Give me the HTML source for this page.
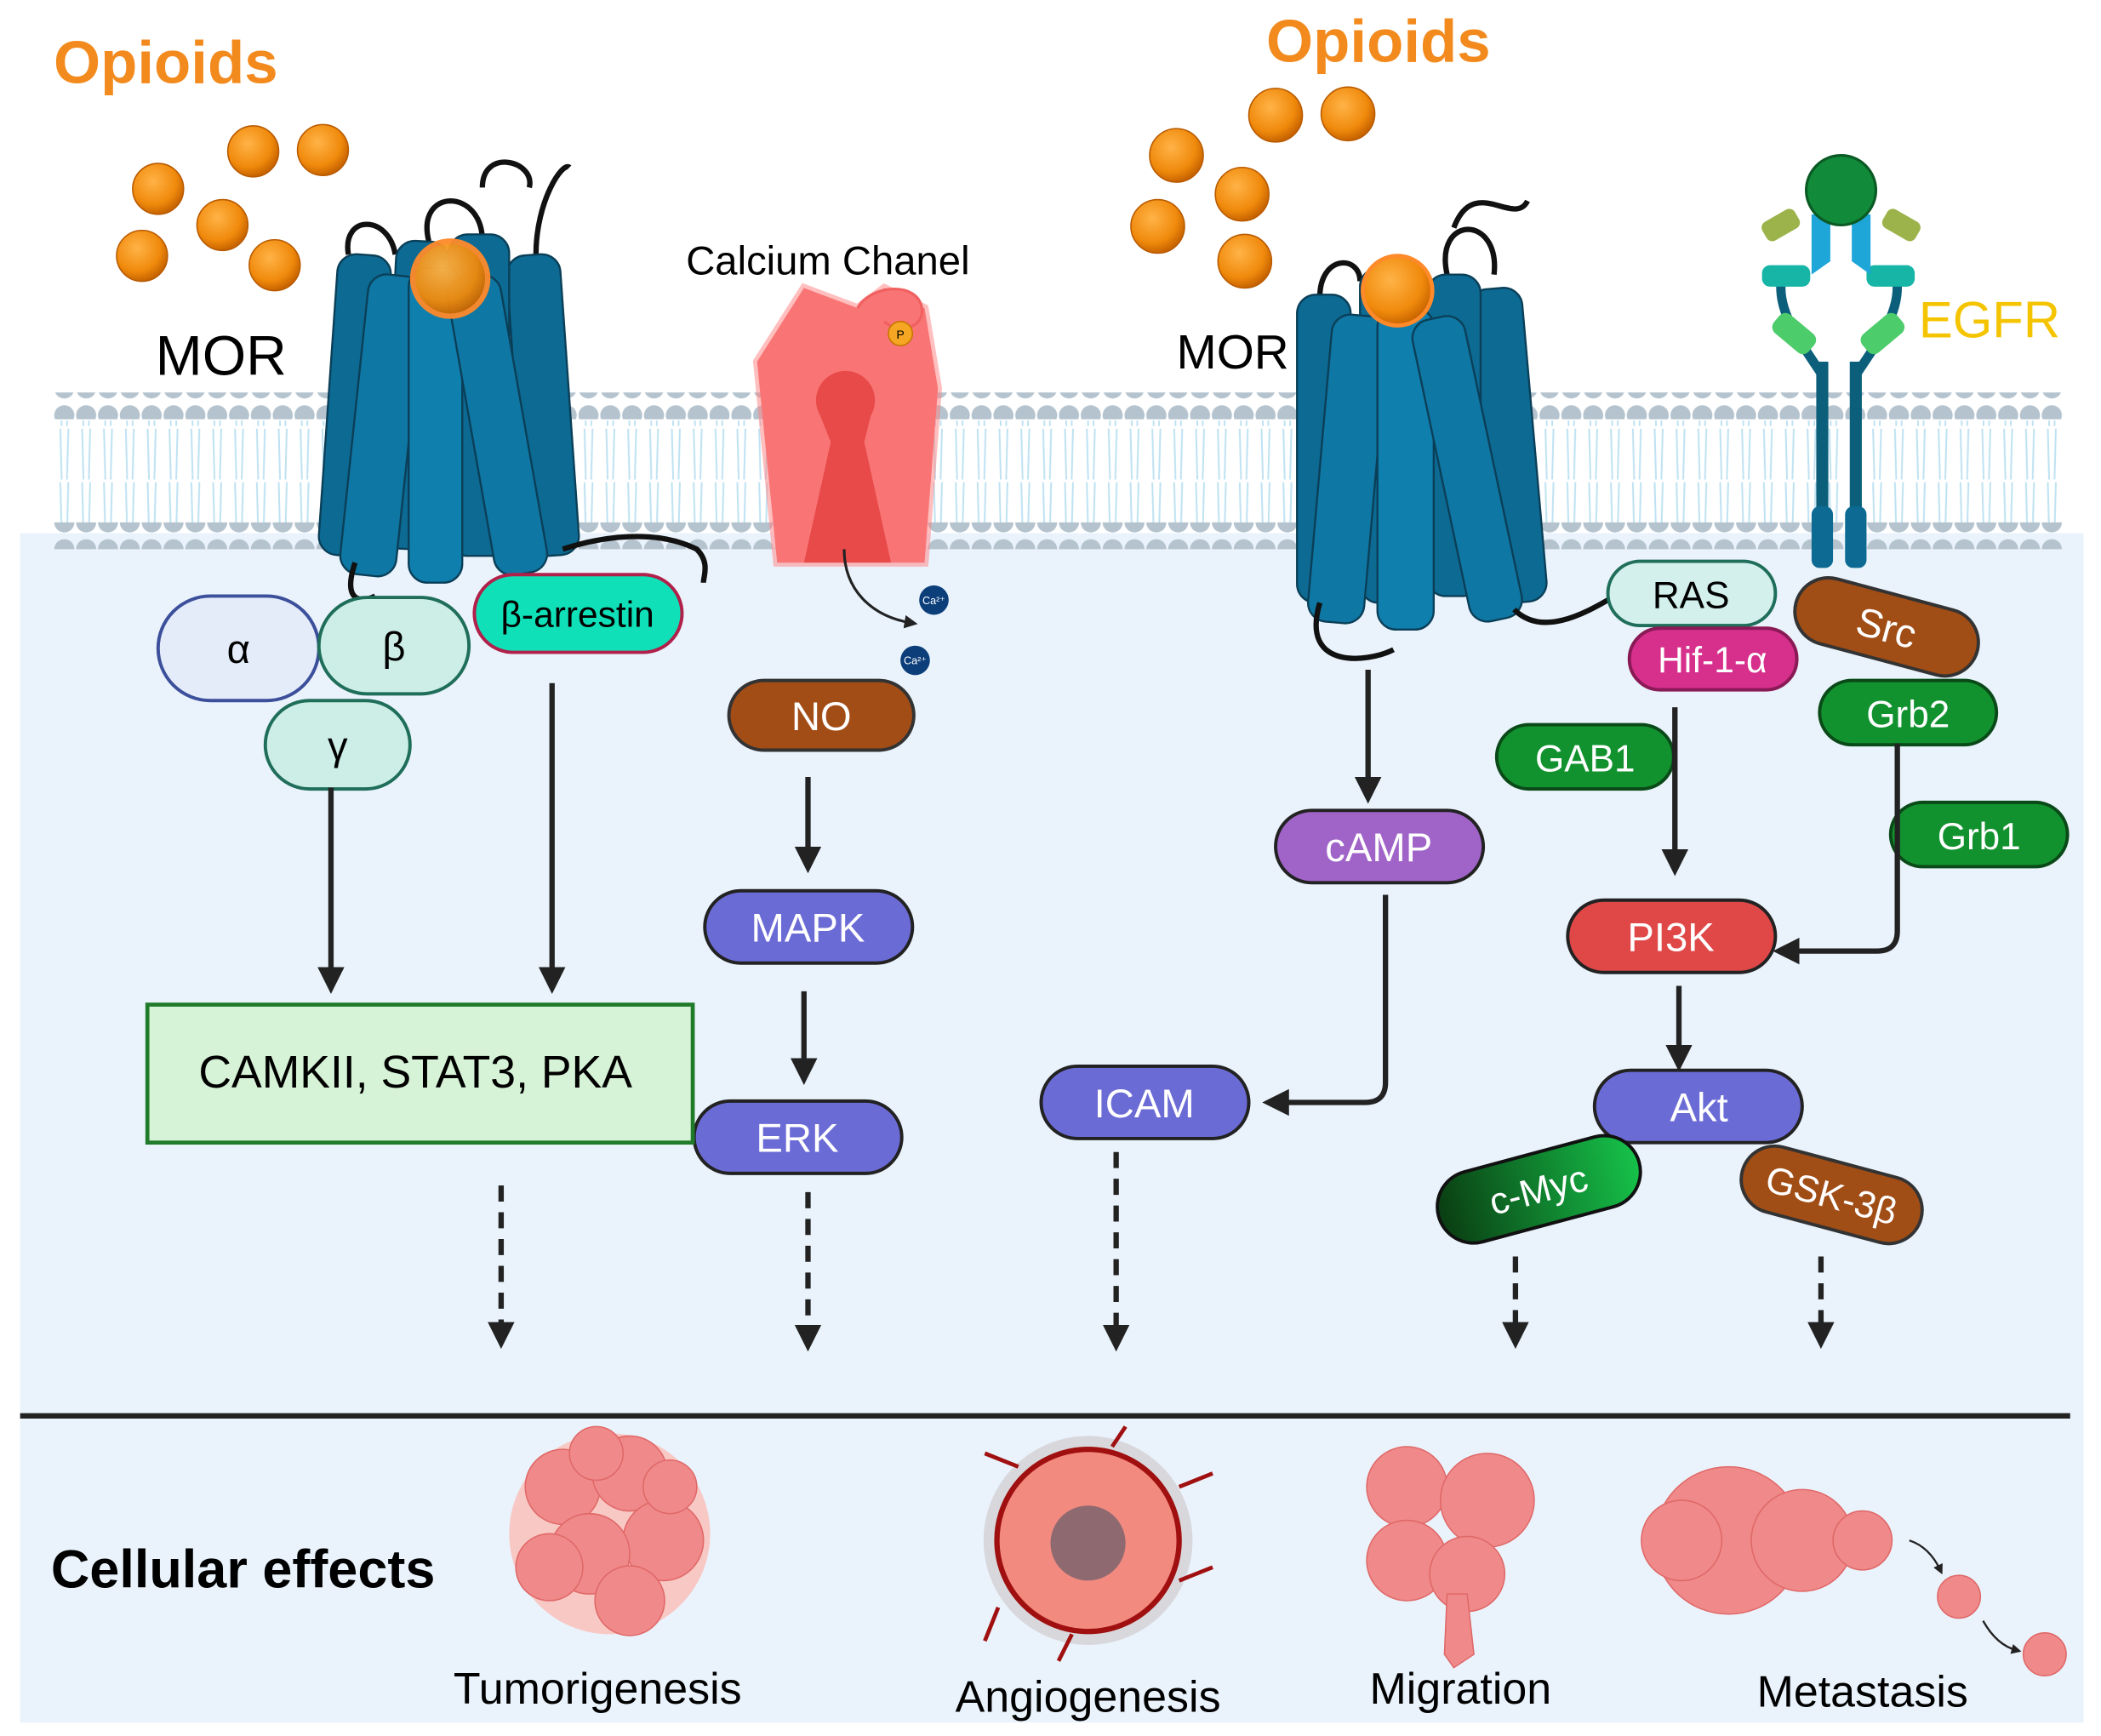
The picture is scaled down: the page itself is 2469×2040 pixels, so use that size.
<!DOCTYPE html>
<html><head><meta charset="utf-8"><style>
html,body{margin:0;padding:0;background:#fff}
svg{display:block}
text{font-family:"Liberation Sans",sans-serif}
</style></head><body>
<svg width="2469" height="2040" viewBox="0 0 1568 1296" preserveAspectRatio="none" xmlns="http://www.w3.org/2000/svg">
<defs>
<pattern id="heads" x="40" y="0" width="16.3" height="20" patternUnits="userSpaceOnUse"><circle cx="8" cy="10" r="7.5" fill="#b4c3ce"/></pattern>
<pattern id="tails" x="40" y="0" width="16.3" height="40" patternUnits="userSpaceOnUse"><path d="M5 0 L6 38 M11 0 L10 38" stroke="#bfe2f2" stroke-width="1.3" fill="none"/></pattern>
<marker id="ah" viewBox="0 0 10 10" refX="5" refY="5" markerWidth="5" markerHeight="5" orient="auto"><path d="M0 0 L10 5 L0 10 z" fill="#222"/></marker>
<radialGradient id="ball" cx="40%" cy="35%" r="65%"><stop offset="0" stop-color="#ffb347"/><stop offset="0.7" stop-color="#f08a0c"/><stop offset="1" stop-color="#c86400"/></radialGradient>
<linearGradient id="myc" x1="0" x2="1"><stop offset="0" stop-color="#0a3d12"/><stop offset="1" stop-color="#16c24a"/></linearGradient>
</defs>
<rect width="1568" height="1296" fill="#fff"/>
<rect x="15" y="398" width="1540" height="888" fill="#eaf3fc"/>
<rect x="40" y="314" width="1500" height="40" fill="url(#tails)"/>
<rect x="40" y="354" width="1500" height="40" fill="url(#tails)"/>
<rect x="40" y="293" width="1500" height="20" fill="url(#heads)"/>
<rect x="40" y="390" width="1500" height="20" fill="url(#heads)"/>
<line x1="15" y1="1057" x2="1545" y2="1057" stroke="#222" stroke-width="4"/>

<text x="40" y="62" font-size="45" font-weight="bold" fill="#f28a1e">Opioids</text>
<text x="945" y="46" font-size="45" font-weight="bold" fill="#f28a1e">Opioids</text>
<g fill="url(#ball)" stroke="#b85a00" stroke-width="1">
<circle cx="118" cy="141" r="19"/><circle cx="189" cy="113" r="19"/><circle cx="241" cy="112" r="19"/><circle cx="166" cy="168" r="19"/><circle cx="106" cy="191" r="19"/><circle cx="205" cy="198" r="19"/>
<circle cx="878" cy="116" r="20"/><circle cx="952" cy="86" r="20"/><circle cx="1006" cy="85" r="20"/><circle cx="927" cy="145" r="20"/><circle cx="864" cy="169" r="20"/><circle cx="929" cy="195" r="20"/>
</g>
<text x="116" y="280" font-size="42">MOR</text>
<text x="878" y="275" font-size="36">MOR</text>
<text x="512" y="205" font-size="30">Calcium Chanel</text>
<text x="1432" y="252" font-size="38" fill="#f5c400">EGFR</text>

<g stroke="#0b3f58" stroke-width="1.5">
<path d="M260 190 C255 160 290 160 295 190 M320 180 C310 140 360 140 360 180 M400 190 C400 150 420 120 425 125 M360 140 C360 110 400 120 395 140" stroke="#111" stroke-width="4" fill="none"/>
<g fill="#0c6a93">
<rect x="245" y="190" width="40" height="225" rx="14" transform="rotate(4 265 300)"/>
<rect x="385" y="190" width="40" height="225" rx="14" transform="rotate(-4 405 300)"/>
<rect x="335" y="175" width="45" height="240" rx="14"/>
<rect x="290" y="180" width="40" height="230" rx="14" transform="rotate(3 310 300)"/>
<rect x="265" y="205" width="42" height="225" rx="14" transform="rotate(6 285 310)" fill="#0f77a3"/>
<rect x="305" y="200" width="40" height="235" rx="14" fill="#0f7fae"/>
<rect x="350" y="205" width="40" height="225" rx="14" transform="rotate(-10 370 310)" fill="#0f77a3"/>
</g></g>
<circle cx="336" cy="208" r="28" fill="url(#ball)" stroke="#ff8a2a" stroke-width="4" opacity="0.95"/>
<path d="M265 420 C255 450 270 450 280 445 M420 410 C450 400 490 395 520 410 C530 420 525 430 525 435" stroke="#111" stroke-width="4" fill="none"/>

<path d="M985 222 C985 190 1015 190 1015 210 M1080 205 C1070 160 1120 160 1115 205 M1085 170 C1100 130 1130 170 1140 150" stroke="#111" stroke-width="4" fill="none"/>
<g fill="#0c6a93" stroke="#0b3f58" stroke-width="1.5">
<rect x="968" y="220" width="40" height="230" rx="14"/>
<rect x="1105" y="215" width="40" height="235" rx="14" transform="rotate(-5 1125 330)"/>
<rect x="1015" y="200" width="45" height="250" rx="14"/>
<rect x="1065" y="205" width="40" height="240" rx="14"/>
<rect x="985" y="235" width="42" height="230" rx="14" transform="rotate(5 1005 350)" fill="#0f77a3"/>
<rect x="1028" y="230" width="42" height="240" rx="14" fill="#0f7fae"/>
<rect x="1075" y="235" width="40" height="230" rx="14" transform="rotate(-12 1095 350)" fill="#0f77a3"/>
</g>
<circle cx="1043" cy="217" r="26" fill="url(#ball)" stroke="#ff8a2a" stroke-width="3"/>
<path d="M985 450 C970 500 1020 495 1040 485 M1130 455 C1150 475 1180 460 1205 445" stroke="#111" stroke-width="4" fill="none"/>

<g stroke="#ff8080" stroke-width="6" opacity="0.5"><path d="M565 270 L600 215 L640 230 L660 215 L690 230 L700 290 L690 420 L580 420 Z" fill="none"/></g>
<path d="M565 270 L600 215 L640 230 L660 215 L690 230 L700 290 L690 420 L580 420 Z" fill="#f97575"/>
<path d="M600 420 L620 330 L612 310 A22 22 0 1 1 650 310 L645 330 L665 420 Z" fill="#e84a4a"/>
<path d="M640 230 C650 212 685 210 688 230 C690 245 670 250 660 240" fill="#f97575" stroke="#f06060" stroke-width="2"/>
<circle cx="672" cy="249" r="9" fill="#f5a623" stroke="#c77700"/><text x="672" y="253" font-size="9" text-anchor="middle">P</text>
<path d="M630 410 C630 440 650 460 680 465" stroke="#222" stroke-width="2" fill="none" marker-end="url(#ah)"/>
<circle cx="697" cy="448" r="11" fill="#0c3e7a"/><text x="697" y="451" font-size="8" fill="#fff" text-anchor="middle">Ca²⁺</text>
<circle cx="683" cy="493" r="11" fill="#0c3e7a"/><text x="683" y="496" font-size="8" fill="#fff" text-anchor="middle">Ca²⁺</text>

<g>
<path d="M1360 270 L1360 420 M1385 270 L1385 420" stroke="#0c5f7a" stroke-width="9"/>
<rect x="1352" y="378" width="16" height="46" rx="6" fill="#0c6a93"/><rect x="1377" y="378" width="16" height="46" rx="6" fill="#0c6a93"/>
<path d="M1360 280 C1340 250 1325 230 1330 205 M1385 280 C1405 250 1420 230 1415 205" stroke="#0c5f7a" stroke-width="7" fill="none"/>
<rect x="1322" y="240" width="34" height="18" rx="6" fill="#4ccc6a" transform="rotate(40 1339 249)"/>
<rect x="1388" y="240" width="34" height="18" rx="6" fill="#4ccc6a" transform="rotate(-40 1405 249)"/>
<rect x="1315" y="198" width="36" height="16" rx="6" fill="#16b5a6"/><rect x="1393" y="198" width="36" height="16" rx="6" fill="#16b5a6"/>
<path d="M1352 160 L1366 160 L1366 195 L1352 205 Z M1382 160 L1396 160 L1396 205 L1382 195 Z" fill="#1fa6d8"/>
<rect x="1315" y="160" width="28" height="16" rx="5" fill="#9bb34a" transform="rotate(-30 1329 168)"/>
<rect x="1405" y="160" width="28" height="16" rx="5" fill="#9bb34a" transform="rotate(30 1419 168)"/>
<circle cx="1374" cy="142" r="26" fill="#118a3a" stroke="#0a5a24" stroke-width="2"/>
</g>

<g font-size="30" text-anchor="middle" stroke-width="2.5">
<rect x="118" y="445" width="120" height="78" rx="39" fill="#e4ecfa" stroke="#3c4f9a"/><text x="178" y="495">α</text>
<rect x="238" y="446" width="112" height="72" rx="36" fill="#cdeee6" stroke="#1f6e5a"/><text x="294" y="493">β</text>
<rect x="198" y="523" width="108" height="66" rx="33" fill="#cdeee6" stroke="#1f6e5a"/><text x="252" y="567">γ</text>
<rect x="354" y="429" width="155" height="58" rx="29" fill="#10e0b8" stroke="#b0204a"/><text x="431" y="468" font-size="27">β-arrestin</text>
<rect x="544" y="508" width="138" height="52" rx="26" fill="#a34d16" stroke="#333"/><text x="613" y="545" fill="#fff">NO</text>
<rect x="526" y="665" width="155" height="54" rx="27" fill="#6b6bd6" stroke="#222"/><text x="603" y="703" fill="#fff">MAPK</text>
<rect x="518" y="822" width="155" height="54" rx="27" fill="#6b6bd6" stroke="#222"/><text x="595" y="860" fill="#fff">ERK</text>
<rect x="110" y="750" width="407" height="103" fill="#d7f3d7" stroke="#1f7a2a" stroke-width="3"/><text x="310" y="812" font-size="34">CAMKII, STAT3, PKA</text>
<rect x="952" y="605" width="155" height="54" rx="27" fill="#a064c8" stroke="#222"/><text x="1029" y="643" fill="#fff">cAMP</text>
<rect x="777" y="796" width="155" height="54" rx="27" fill="#6b6bd6" stroke="#222"/><text x="854" y="834" fill="#fff">ICAM</text>
<rect x="1200" y="419" width="125" height="48" rx="24" fill="#d3f0ec" stroke="#1f6e5a"/><text x="1262" y="454" font-size="28">RAS</text>
<rect x="1216" y="469" width="125" height="46" rx="23" fill="#d62f8c" stroke="#8a1a55"/><text x="1278" y="502" font-size="27" fill="#fff">Hif-1-α</text>
<g transform="rotate(15 1408 468)"><rect x="1338" y="443" width="140" height="50" rx="25" fill="#a04d16" stroke="#333"/><text x="1408" y="479" fill="#fff">Src</text></g>
<rect x="1358" y="508" width="132" height="48" rx="24" fill="#12922f" stroke="#0a4a18"/><text x="1424" y="543" font-size="28" fill="#fff">Grb2</text>
<rect x="1117" y="541" width="132" height="48" rx="24" fill="#12922f" stroke="#0a4a18"/><text x="1183" y="576" font-size="28" fill="#fff">GAB1</text>
<rect x="1411" y="599" width="132" height="48" rx="24" fill="#12922f" stroke="#0a4a18"/><text x="1477" y="634" font-size="28" fill="#fff">Grb1</text>
<rect x="1170" y="672" width="155" height="54" rx="27" fill="#e04848" stroke="#222"/><text x="1247" y="710" fill="#fff">PI3K</text>
<rect x="1190" y="799" width="155" height="54" rx="27" fill="#6b6bd6" stroke="#222"/><text x="1268" y="837" fill="#fff">Akt</text>
<g transform="rotate(-15 1148 888)"><rect x="1071" y="861" width="155" height="54" rx="27" fill="url(#myc)" stroke="#111"/><text x="1148" y="898" font-size="28" fill="#fff">c-Myc</text></g>
<g transform="rotate(15 1367 892)"><rect x="1298" y="867" width="138" height="50" rx="25" fill="#a04d16" stroke="#333"/><text x="1367" y="902" font-size="28" fill="#fff">GSK-3β</text></g>
</g>

<g stroke="#222" stroke-width="4" fill="none" marker-end="url(#ah)">
<path d="M247 588 V732"/><path d="M412 510 V732"/>
<path d="M603 580 V642"/><path d="M600 740 V800"/>
<path d="M1021 500 V590"/>
<path d="M1034 668 V808 Q1034 823 1019 823 H952"/>
<path d="M1250 528 V644"/>
<path d="M1416 555 V695 Q1416 710 1401 710 H1333"/>
<path d="M1253 736 V790"/>
<g stroke-dasharray="12 8"><path d="M374 885 V997"/><path d="M603 890 V999"/><path d="M833 860 V999"/><path d="M1131 938 V997"/><path d="M1359 938 V997"/></g>
</g>

<text x="38" y="1185" font-size="40" font-weight="bold">Cellular effects</text>
<g font-size="33" text-anchor="middle">
<text x="446" y="1272">Tumorigenesis</text><text x="812" y="1278">Angiogenesis</text><text x="1090" y="1272">Migration</text><text x="1390" y="1274">Metastasis</text>
</g>
<g fill="#f08a8a" stroke="#e06868" stroke-width="1">
<circle cx="455" cy="1145" r="75" fill="#f8c8c4" stroke="none"/>
<circle cx="420" cy="1110" r="28"/><circle cx="470" cy="1100" r="28"/><circle cx="495" cy="1150" r="30"/><circle cx="440" cy="1160" r="30"/><circle cx="410" cy="1170" r="25"/><circle cx="470" cy="1195" r="26"/><circle cx="500" cy="1110" r="20"/><circle cx="445" cy="1085" r="20"/>
</g>
<circle cx="812" cy="1150" r="78" fill="#d8d8dc"/>
<circle cx="812" cy="1150" r="68" fill="#f28a80" stroke="#a01010" stroke-width="4"/>
<circle cx="812" cy="1152" r="28" fill="#8e6a70"/>
<path d="M745 1200 L735 1225 M880 1110 L905 1100 M880 1180 L905 1170 M760 1095 L735 1085 M830 1080 L840 1065 M800 1220 L790 1240" stroke="#a01010" stroke-width="3"/>
<g fill="#f08a8a" stroke="#e06868">
<circle cx="1050" cy="1110" r="30"/><circle cx="1110" cy="1120" r="35"/><circle cx="1050" cy="1165" r="30"/><circle cx="1095" cy="1175" r="28"/>
<path d="M1080 1190 L1095 1190 L1100 1235 L1085 1245 L1078 1235 Z"/>
<circle cx="1290" cy="1150" r="55"/><circle cx="1345" cy="1150" r="38"/><circle cx="1390" cy="1150" r="22"/><circle cx="1255" cy="1150" r="30"/>
<circle cx="1462" cy="1192" r="16"/><circle cx="1526" cy="1235" r="16"/>
</g>
<g stroke="#222" stroke-width="1.5" fill="none" marker-end="url(#ah)"><path d="M1425 1150 Q1440 1155 1448 1172"/><path d="M1480 1210 Q1490 1228 1505 1232"/></g>
</svg>
</body></html>
